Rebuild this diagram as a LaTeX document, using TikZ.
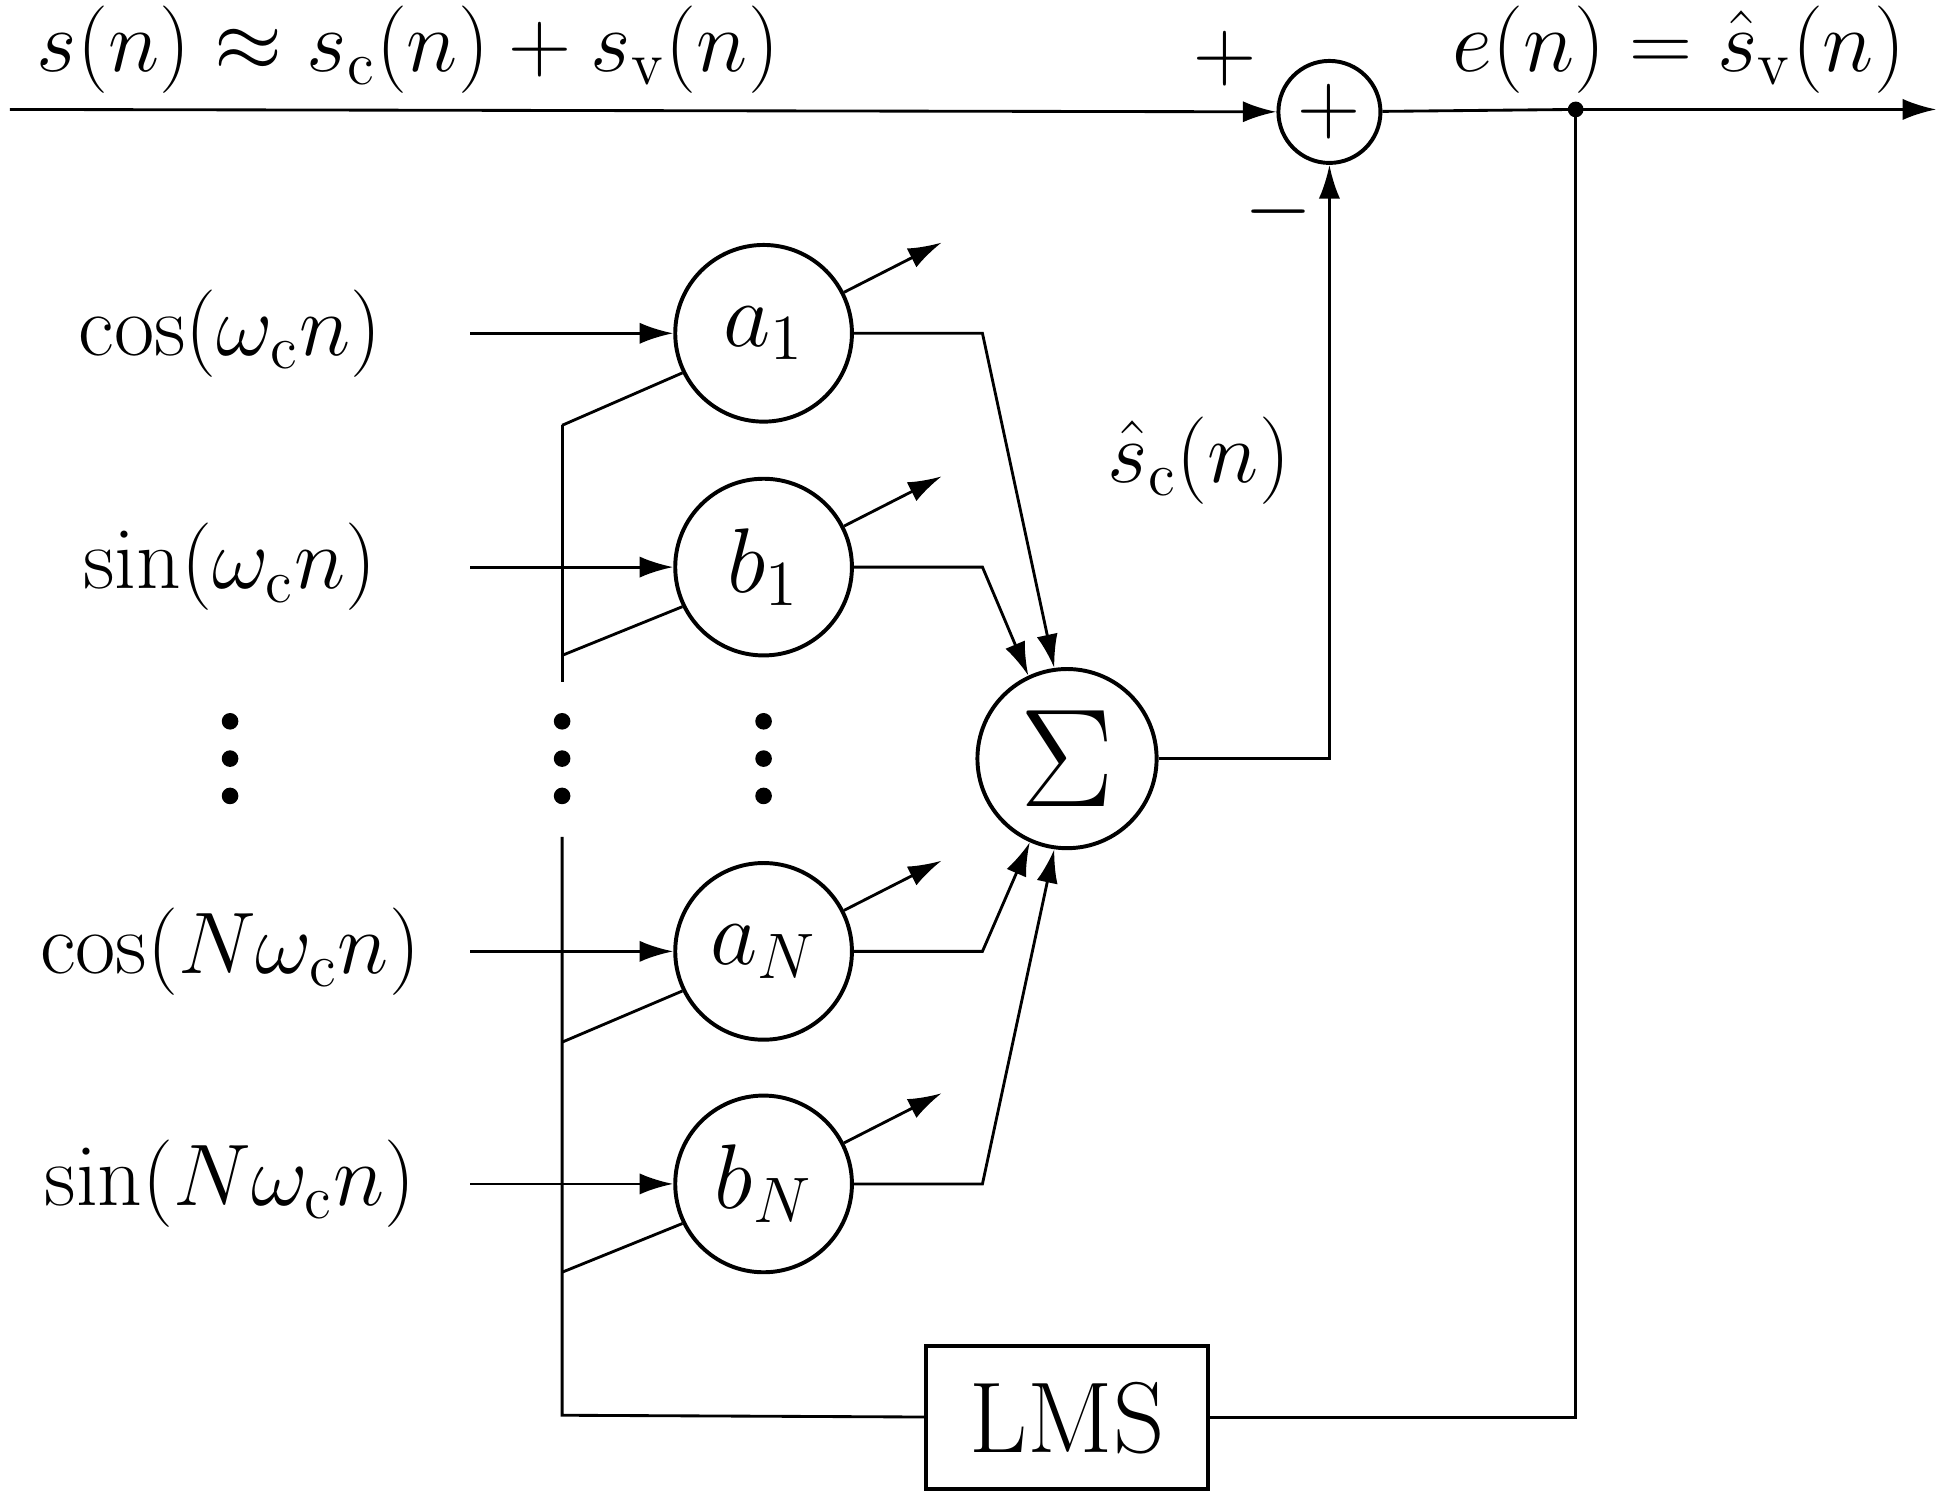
\RequirePackage{fix-cm}
\documentclass[tikz,border=0pt]{standalone}
\usepackage{amsmath,amssymb}
\usepackage{tikz}
\usetikzlibrary{arrows.meta,positioning}

\tikzset{
    every node/.style={font=\fontsize{20}{24}\selectfont},
    sig/.style={-{Latex[length=0.27cm,width=0.17cm]}, line width=0.65pt},
    wire/.style={line width=0.65pt},
    weight/.style={circle, draw, line width=0.9pt, minimum size=1.42cm, inner sep=0pt,
        font=\fontsize{21}{25}\selectfont},
    sumnode/.style={circle, draw, line width=0.9pt, minimum size=1.44cm, inner sep=0pt},
    adder/.style={circle, draw, line width=0.9pt, minimum size=0.82cm, inner sep=0pt},
    lmsbox/.style={draw, line width=0.9pt, minimum width=2.27cm, minimum height=1.15cm,
        font=\fontsize{23}{27}\selectfont},
    toplabel/.style={inner sep=0pt}
}

\begin{document}
\begin{tikzpicture}[x=0.01cm, y=-0.01cm]

    \useasboundingbox (0,0) rectangle (1568,1209);

    % Input signal and adder
    \node[adder] (add) at (1069,90) {$+$};
    \coordinate (in) at (8,88);
    \draw[sig] (in) -- (add);
    \node[toplabel] (slab) at (328,40) {$s(n)\approx s_{\mathrm{c}}(n)+s_{\mathrm{v}}(n)$};
    \node (plus) at (985,47) {$+$};
    \node (minus) at (1028,170) {$-$};

    % Error output
    \coordinate (tap) at (1267,88);
    \coordinate (out) at (1557,88);
    \draw[wire] (add) -- (tap);
    \draw[sig] (tap) -- (out);
    \fill (tap) circle (1.8pt);
    \node[toplabel] (elab) at (1350,40) {$e(n)=\hat{s}_{\mathrm{v}}(n)$};

    % Summation
    \node[sumnode] (sum) at (858,610) {\fontsize{32}{36}\selectfont$\Sigma$};
    \draw[sig] (sum) -| (add);
    \node (sclab) at (964,370) {$\hat{s}_{\mathrm{c}}(n)$};

    % Weights with their reference inputs
    \foreach \w/\y/\lab/\txt/\t/\ang in {
        a1/268/{a_1}/{\cos(\omega_{\mathrm{c}}n)}/342/98,
        b1/456/{b_1}/{\sin(\omega_{\mathrm{c}}n)}/527/115,
        aN/765/{a_N}/{\cos(N\omega_{\mathrm{c}}n)}/838/246,
        bN/952/{b_N}/{\sin(N\omega_{\mathrm{c}}n)}/1023/262} {
        \node[weight] (\w) at (614,\y) {$\lab$};
        \node (in\w) at (185,\y) {$\txt$};
        \coordinate (src\w) at (378,\y);
        \coordinate (bus\w) at (452,\t);
        \coordinate (brk\w) at (790,\y);
        \draw[sig] (src\w) -- (\w);
        \draw[wire] (bus\w) -- (\w.206);
        \draw[sig] (\w.27) -- ++(27:0.88cm);
        \draw[sig] (\w.east) -- (brk\w) -- (sum.\ang);
    }

    % Update bus from LMS
    \node[lmsbox] (lms) at (858,1140) {LMS};
    \coordinate (busbot) at (452,1138);
    \coordinate (buslo) at (452,673);
    \coordinate (bushi) at (452,548);
    \draw[wire] (tap) |- (lms);
    \draw[wire] (lms) -- (busbot) -- (buslo);
    \draw[wire] (bushi) -- (busa1);

    % Dots
    \foreach \x in {185,452,614} {
        \foreach \y in {580,610,640} {
            \fill (\x,\y) circle (1.9pt);
        }
    }

\end{tikzpicture}
\end{document}
